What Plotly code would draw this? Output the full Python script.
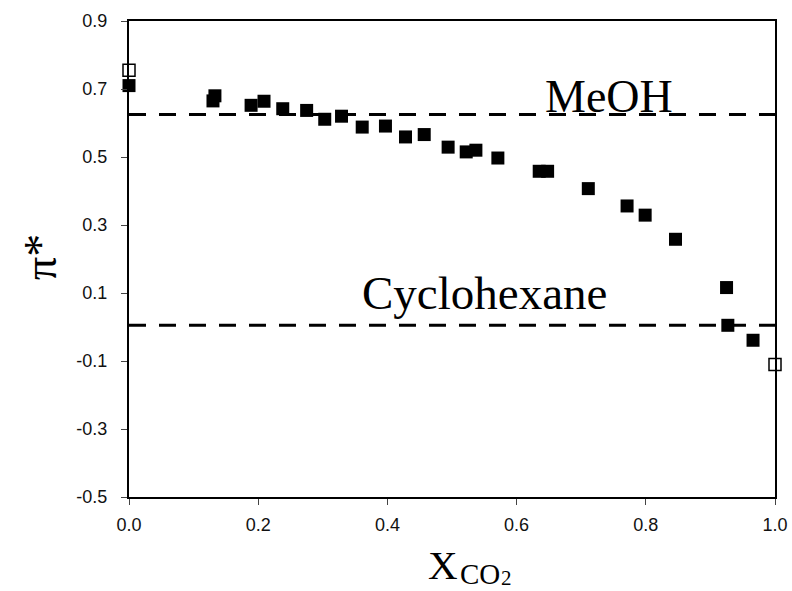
import plotly.graph_objects as go

# Data
x_filled = [0.0, 0.13, 0.133, 0.189, 0.209, 0.238, 0.275, 0.303, 0.329, 0.361, 0.397,
            0.428, 0.457, 0.494, 0.522, 0.537, 0.571, 0.635, 0.648, 0.711, 0.771,
            0.799, 0.846, 0.925, 0.927, 0.966]
y_filled = [0.71, 0.665, 0.68, 0.652, 0.664, 0.642, 0.637, 0.611, 0.620, 0.588, 0.591,
            0.559, 0.566, 0.529, 0.515, 0.520, 0.497, 0.458, 0.458, 0.407, 0.356,
            0.329, 0.258, 0.116, 0.005, -0.039]
x_open = [0.0, 1.0]
y_open = [0.755, -0.11]
ref_names = ["MeOH", "Cyclohexane"]
ref_values = [0.625, 0.005]
ref_x = [0.0, 1.0]
y_ticks = [0.9, 0.7, 0.5, 0.3, 0.1, -0.1, -0.3, -0.5]
x_ticks = [0.0, 0.2, 0.4, 0.6, 0.8, 1.0]

W, H = 792, 591
L, R, T, B = 129, 17, 21, 94
pw, ph = W - L - R, H - T - B


def px(xp):
    return (xp - L) / pw


def py(yp):
    return (H - B - yp) / ph


fig = go.Figure()
for name, v in zip(ref_names, ref_values):
    fig.add_trace(go.Scatter(x=ref_x, y=[v, v], mode="lines",
                             line=dict(color="black", width=3, dash="17px,13px"),
                             showlegend=False, hoverinfo="skip"))
fig.add_trace(go.Scatter(x=x_filled, y=y_filled, mode="markers",
                         marker=dict(symbol="square", size=13, color="black"),
                         showlegend=False, cliponaxis=False))
fig.add_trace(go.Scatter(x=x_open, y=y_open, mode="markers",
                         marker=dict(symbol="square-open", size=12, color="black",
                                     line=dict(width=1.5)),
                         showlegend=False, cliponaxis=False))

serif = "Liberation Serif, Times New Roman, serif"
fig.add_annotation(x=0.743, y=ref_values[0], text="MeOH", showarrow=False,
                   yanchor="bottom", yshift=-9, font=dict(family=serif, size=46, color="black"))
fig.add_annotation(x=0.551, y=ref_values[1], text="Cyclohexane", showarrow=False,
                   yanchor="bottom", yshift=4, font=dict(family=serif, size=47, color="black"))

# x-axis title built from parts: X, CO, 2
for txt, xl, ybot, size in [("X", 427, 589, 41), ("CO", 459, 591, 29), ("2", 500, 591, 21)]:
    fig.add_annotation(xref="paper", yref="paper", x=px(xl), y=py(ybot),
                       xanchor="left", yanchor="bottom", showarrow=False, borderpad=0,
                       text=txt, font=dict(family=serif, size=size, color="black"))
fig.add_annotation(xref="paper", yref="paper", x=px(40), y=py(257),
                   xanchor="center", yanchor="middle", showarrow=False, textangle=-90,
                   text="π*", font=dict(family=serif, size=46, color="black"))

tickfont = dict(family="Liberation Sans, Arial, sans-serif", size=18, color="#111")
common = dict(showgrid=False, zeroline=False, showline=True, linecolor="black",
              linewidth=2, mirror=True, ticks="outside", ticklen=6, tickcolor="#444",
              tickfont=tickfont, automargin=False)
fig.update_xaxes(range=[0, 1], tickvals=x_ticks, ticktext=[f"{t:.1f}" for t in x_ticks],
                 ticklabelstandoff=4, **common)
fig.update_yaxes(range=[-0.5, 0.9], tickvals=y_ticks, ticktext=[f"{t:.1f}" for t in y_ticks],
                 ticklabelstandoff=10, **common)
fig.update_layout(width=W, height=H, margin=dict(l=L, r=R, t=T, b=B),
                  plot_bgcolor="white", paper_bgcolor="white")
fig.write_html("out.html")
